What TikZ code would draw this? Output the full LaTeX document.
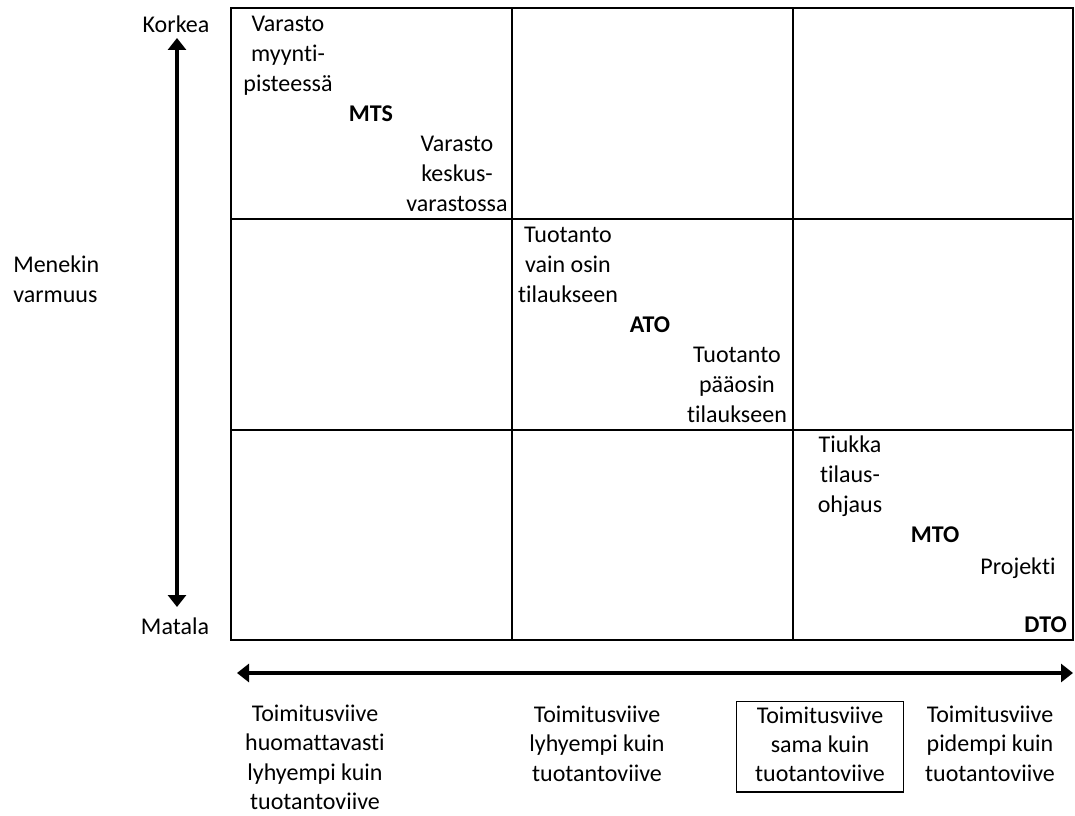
\documentclass[tikz,border=0pt]{standalone}
\usepackage{fontspec}
\setmainfont{Carlito}[Ligatures=NoCommon]
\usetikzlibrary{arrows.meta}
\begin{document}
\begin{tikzpicture}[x=0.75pt,y=-0.75pt,
  gridline/.style={line width=1.5pt},
  axisarrow/.style={line width=3pt,{Triangle[width=13.5pt,length=9pt]}-{Triangle[width=13.5pt,length=9pt]}},
  celltext/.style={font=\fontsize{18}{22.5}\selectfont, align=center, inner sep=0pt, anchor=north},
  boldtext/.style={celltext, font=\fontsize{18}{22.5}\selectfont\bfseries},
  bottomtext/.style={font=\fontsize{18}{21.9}\selectfont, align=center, inner sep=0pt, anchor=north},
  boxedtext/.style={bottomtext, draw, line width=1pt, inner xsep=14pt, inner ysep=1pt}]
\useasboundingbox (0,0) rectangle (1075,816);
% grid
\draw[gridline] (231,8) rectangle (1073,640);
\draw[gridline] (512,8) -- (512,640);
\draw[gridline] (793,8) -- (793,640);
\draw[gridline] (231,219) -- (1073,219);
\draw[gridline] (231,430) -- (1073,430);
% axes
\coordinate (vtop) at (177,38);
\coordinate (vbot) at (177,607);
\coordinate (hleft) at (237,673);
\coordinate (hright) at (1073,673);
\draw[axisarrow] (vtop) -- (vbot);
\draw[axisarrow] (hleft) -- (hright);
% axis labels
\node[celltext] (korkea) at (176,11) {\strut Korkea};
\node[celltext] (matala) at (175,613) {\strut Matala};
\node[celltext, align=left, anchor=north west] (menekin) at (13,251) {\strut Menekin\\varmuus\strut};
% cell texts
\node[celltext] (tl1) at (288,10) {\strut Varasto\\myynti-\\pisteessä\strut};
\node[boldtext] (mts) at (371,100) {\strut MTS};
\node[celltext] (tl2) at (457,130) {\strut Varasto\\keskus-\\varastossa\strut};
\node[celltext] (m1) at (568,221) {\strut Tuotanto\\vain osin\\tilaukseen\strut};
\node[boldtext] (ato) at (650,311) {\strut ATO};
\node[celltext] (m2) at (737,341) {\strut Tuotanto\\pääosin\\tilaukseen\strut};
\node[celltext] (b1) at (850,431) {\strut Tiukka\\tilaus-\\ohjaus\strut};
\node[boldtext] (mto) at (935,521) {\strut MTO};
\node[celltext] (proj) at (1018,553) {\strut Projekti};
\node[boldtext, anchor=north east] (dto) at (1067,611) {\strut DTO};
% bottom labels
\node[bottomtext] (c1) at (315,701) {\strut Toimitusviive\\huomattavasti\\lyhyempi kuin\\tuotantoviive};
\node[bottomtext] (c2) at (597,702) {\strut Toimitusviive\\lyhyempi kuin\\tuotantoviive\strut};
\node[boxedtext] (c3) at (820,701) {\strut Toimitusviive\\sama kuin\\tuotantoviive\strut};
\node[bottomtext] (c4) at (990,702) {\strut Toimitusviive\\pidempi kuin\\tuotantoviive\strut};
\end{tikzpicture}
\end{document}
